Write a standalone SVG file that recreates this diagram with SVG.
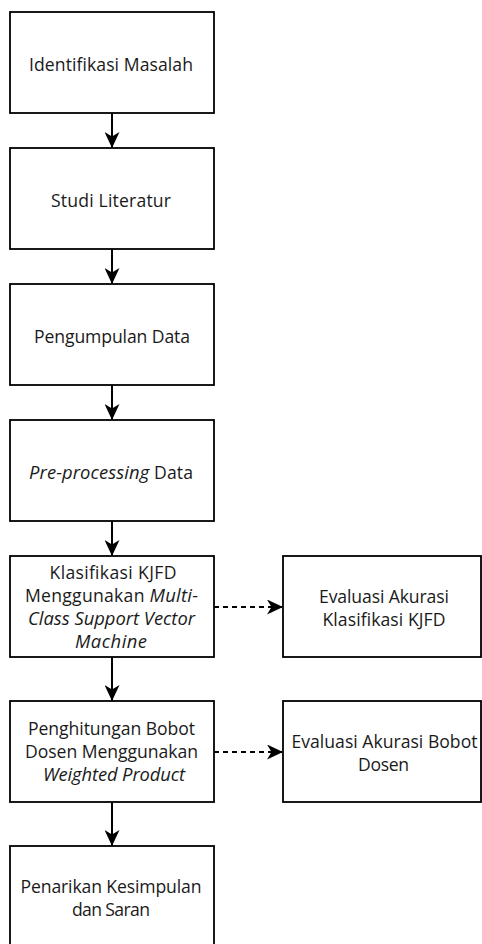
<svg xmlns="http://www.w3.org/2000/svg" width="482" height="944" viewBox="0 0 482 944">
<style>
.box{fill:#fff;stroke:#000;stroke-width:1.8}
.t{font-family:"Open Sans","Noto Sans","Liberation Sans",sans-serif;font-size:17.6px;fill:#1a1a1a;text-anchor:middle}
.i{font-style:italic;font-size:18.4px}
.c{fill:none;stroke:#000;stroke-width:2}
.d{stroke-dasharray:5 4}
</style>
<defs>
<marker id="ah" markerUnits="userSpaceOnUse" markerWidth="16" markerHeight="15" refX="16" refY="7.5" orient="auto" viewBox="0 0 16 15">
<path d="M16,7.5 L0,0 L4.5,7.5 L0,15 Z" fill="#000"/>
</marker>
</defs>
<rect width="482" height="944" fill="#fff"/>
<g id="connectors">
<line class="c" x1="112" y1="113" x2="112" y2="148" marker-end="url(#ah)"/>
<line class="c" x1="112" y1="249" x2="112" y2="284" marker-end="url(#ah)"/>
<line class="c" x1="112" y1="385" x2="112" y2="420" marker-end="url(#ah)"/>
<line class="c" x1="112" y1="521" x2="112" y2="556" marker-end="url(#ah)"/>
<line class="c" x1="112" y1="657" x2="112" y2="701" marker-end="url(#ah)"/>
<line class="c" x1="112" y1="802" x2="112" y2="846" marker-end="url(#ah)"/>
<line class="c d" x1="214" y1="607" x2="283" y2="607" marker-end="url(#ah)"/>
<line class="c d" x1="214" y1="752" x2="283" y2="752" marker-end="url(#ah)"/>
</g>
<g id="n1"><rect class="box" x="10" y="12" width="204" height="101"/><text class="t" x="111" y="71" textLength="164">Identifikasi Masalah</text></g>
<g id="n2"><rect class="box" x="10" y="148" width="204" height="101"/><text class="t" x="111" y="207" textLength="120">Studi Literatur</text></g>
<g id="n3"><rect class="box" x="10" y="284" width="204" height="101"/><text class="t" x="112" y="343" textLength="156">Pengumpulan Data</text></g>
<g id="n4"><rect class="box" x="10" y="420" width="204" height="101"/><text class="t" x="111" y="479" textLength="164"><tspan class="i">Pre-processing</tspan> Data</text></g>
<g id="n5"><rect class="box" x="10" y="556" width="204" height="101"/>
<text class="t" x="113" y="579" textLength="127">Klasifikasi KJFD</text>
<text class="t" x="111.5" y="602" textLength="173">Menggunakan <tspan class="i">Multi-</tspan></text>
<text class="t i" x="111.5" y="625" textLength="167">Class Support Vector</text>
<text class="t i" x="111" y="648" textLength="72">Machine</text></g>
<g id="n6"><rect class="box" x="283" y="556" width="198" height="101"/>
<text class="t" x="384" y="603" textLength="130">Evaluasi Akurasi</text>
<text class="t" x="384" y="626" textLength="123">Klasifikasi KJFD</text></g>
<g id="n7"><rect class="box" x="10" y="701" width="204" height="101"/>
<text class="t" x="111.5" y="735" textLength="167">Penghitungan Bobot</text>
<text class="t" x="111.5" y="758" textLength="173">Dosen Menggunakan</text>
<text class="t i" x="114" y="781" textLength="142">Weighted Product</text></g>
<g id="n8"><rect class="box" x="283" y="701" width="198" height="101"/>
<text class="t" x="384.5" y="748" textLength="186">Evaluasi Akurasi Bobot</text>
<text class="t" x="383.5" y="771" textLength="51">Dosen</text></g>
<g id="n9"><rect class="box" x="10" y="846" width="204" height="101"/>
<text class="t" x="111" y="893" textLength="181">Penarikan Kesimpulan</text>
<text class="t" x="111" y="916" textLength="78">dan Saran</text></g>
</svg>
